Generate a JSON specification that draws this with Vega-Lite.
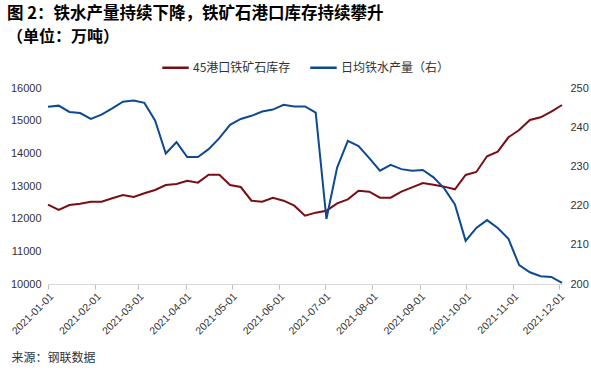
{
  "$schema": "https://vega.github.io/schema/vega-lite/v6.json",
  "width": 514,
  "height": 196,
  "autosize": {"type": "none"},
  "padding": {"left": 48, "top": 88, "right": 29, "bottom": 95},
  "background": "white",
  "title": {
    "text": "图 2：铁水产量持续下降，铁矿石港口库存持续攀升",
    "subtitle": "（单位：万吨）",
    "anchor": "start",
    "frame": "group",
    "dx": -41,
    "fontSize": 16.5,
    "fontWeight": "bold",
    "font": "Noto Sans CJK SC",
    "color": "#000000",
    "subtitleFont": "Noto Sans CJK SC",
    "subtitleFontSize": 16,
    "subtitleFontWeight": "bold",
    "subtitleColor": "#000000",
    "subtitlePadding": 7,
    "offset": 8
  },
  "config": {
    "view": {"stroke": null},
    "axis": {"grid": false, "labelFont": "Liberation Sans", "labelFontSize": 11, "labelColor": "#333333"},
    "legend": {"labelFont": "Noto Sans CJK SC", "labelFontSize": 12, "labelColor": "#333333"}
  },
  "datasets": {
    "rows": [
      {"date": "2021-01-01", "series": "45港口铁矿石库存", "value": 12428},
      {"date": "2021-01-08", "series": "45港口铁矿石库存", "value": 12265},
      {"date": "2021-01-15", "series": "45港口铁矿石库存", "value": 12418},
      {"date": "2021-01-22", "series": "45港口铁矿石库存", "value": 12459},
      {"date": "2021-01-29", "series": "45港口铁矿石库存", "value": 12520},
      {"date": "2021-02-05", "series": "45港口铁矿石库存", "value": 12520},
      {"date": "2021-02-12", "series": "45港口铁矿石库存", "value": 12623},
      {"date": "2021-02-19", "series": "45港口铁矿石库存", "value": 12724},
      {"date": "2021-02-26", "series": "45港口铁矿石库存", "value": 12663},
      {"date": "2021-03-05", "series": "45港口铁矿石库存", "value": 12777},
      {"date": "2021-03-12", "series": "45港口铁矿石库存", "value": 12878},
      {"date": "2021-03-19", "series": "45港口铁矿石库存", "value": 13031},
      {"date": "2021-03-26", "series": "45港口铁矿石库存", "value": 13061},
      {"date": "2021-04-02", "series": "45港口铁矿石库存", "value": 13163},
      {"date": "2021-04-09", "series": "45港口铁矿石库存", "value": 13102},
      {"date": "2021-04-16", "series": "45港口铁矿石库存", "value": 13347},
      {"date": "2021-04-23", "series": "45港口铁矿石库存", "value": 13347},
      {"date": "2021-04-30", "series": "45港口铁矿石库存", "value": 13031},
      {"date": "2021-05-07", "series": "45港口铁矿石库存", "value": 12969},
      {"date": "2021-05-14", "series": "45港口铁矿石库存", "value": 12550},
      {"date": "2021-05-21", "series": "45港口铁矿石库存", "value": 12520},
      {"date": "2021-05-28", "series": "45港口铁矿石库存", "value": 12642},
      {"date": "2021-06-04", "series": "45港口铁矿石库存", "value": 12550},
      {"date": "2021-06-11", "series": "45港口铁矿石库存", "value": 12397},
      {"date": "2021-06-18", "series": "45港口铁矿石库存", "value": 12091},
      {"date": "2021-06-25", "series": "45港口铁矿石库存", "value": 12184},
      {"date": "2021-07-02", "series": "45港口铁矿石库存", "value": 12244},
      {"date": "2021-07-09", "series": "45港口铁矿石库存", "value": 12470},
      {"date": "2021-07-16", "series": "45港口铁矿石库存", "value": 12592},
      {"date": "2021-07-23", "series": "45港口铁矿石库存", "value": 12857},
      {"date": "2021-07-30", "series": "45港口铁矿石库存", "value": 12827},
      {"date": "2021-08-06", "series": "45港口铁矿石库存", "value": 12642},
      {"date": "2021-08-13", "series": "45港口铁矿石库存", "value": 12642},
      {"date": "2021-08-20", "series": "45港口铁矿石库存", "value": 12827},
      {"date": "2021-08-27", "series": "45港口铁矿石库存", "value": 12960},
      {"date": "2021-09-03", "series": "45港口铁矿石库存", "value": 13092},
      {"date": "2021-09-10", "series": "45港口铁矿石库存", "value": 13041},
      {"date": "2021-09-17", "series": "45港口铁矿石库存", "value": 12980},
      {"date": "2021-09-24", "series": "45港口铁矿石库存", "value": 12899},
      {"date": "2021-10-01", "series": "45港口铁矿石库存", "value": 13337},
      {"date": "2021-10-08", "series": "45港口铁矿石库存", "value": 13429},
      {"date": "2021-10-15", "series": "45港口铁矿石库存", "value": 13909},
      {"date": "2021-10-22", "series": "45港口铁矿石库存", "value": 14050},
      {"date": "2021-10-29", "series": "45港口铁矿石库存", "value": 14491},
      {"date": "2021-11-05", "series": "45港口铁矿石库存", "value": 14714},
      {"date": "2021-11-12", "series": "45港口铁矿石库存", "value": 15020},
      {"date": "2021-11-19", "series": "45港口铁矿石库存", "value": 15103},
      {"date": "2021-11-26", "series": "45港口铁矿石库存", "value": 15275},
      {"date": "2021-12-03", "series": "45港口铁矿石库存", "value": 15480},
      {"date": "2021-01-01", "series": "日均铁水产量（右）", "value": 245.2},
      {"date": "2021-01-08", "series": "日均铁水产量（右）", "value": 245.5},
      {"date": "2021-01-15", "series": "日均铁水产量（右）", "value": 243.9},
      {"date": "2021-01-22", "series": "日均铁水产量（右）", "value": 243.6},
      {"date": "2021-01-29", "series": "日均铁水产量（右）", "value": 242.1},
      {"date": "2021-02-05", "series": "日均铁水产量（右）", "value": 243.2},
      {"date": "2021-02-12", "series": "日均铁水产量（右）", "value": 244.8},
      {"date": "2021-02-19", "series": "日均铁水产量（右）", "value": 246.5},
      {"date": "2021-02-26", "series": "日均铁水产量（右）", "value": 246.8},
      {"date": "2021-03-05", "series": "日均铁水产量（右）", "value": 246.2},
      {"date": "2021-03-12", "series": "日均铁水产量（右）", "value": 241.7},
      {"date": "2021-03-19", "series": "日均铁水产量（右）", "value": 233.3},
      {"date": "2021-03-26", "series": "日均铁水产量（右）", "value": 236.2},
      {"date": "2021-04-02", "series": "日均铁水产量（右）", "value": 232.4},
      {"date": "2021-04-09", "series": "日均铁水产量（右）", "value": 232.4},
      {"date": "2021-04-16", "series": "日均铁水产量（右）", "value": 234.4},
      {"date": "2021-04-23", "series": "日均铁水产量（右）", "value": 237.2},
      {"date": "2021-04-30", "series": "日均铁水产量（右）", "value": 240.6},
      {"date": "2021-05-07", "series": "日均铁水产量（右）", "value": 242.1},
      {"date": "2021-05-14", "series": "日均铁水产量（右）", "value": 242.9},
      {"date": "2021-05-21", "series": "日均铁水产量（右）", "value": 244.0},
      {"date": "2021-05-28", "series": "日均铁水产量（右）", "value": 244.5},
      {"date": "2021-06-04", "series": "日均铁水产量（右）", "value": 245.7},
      {"date": "2021-06-11", "series": "日均铁水产量（右）", "value": 245.3},
      {"date": "2021-06-18", "series": "日均铁水产量（右）", "value": 245.3},
      {"date": "2021-06-25", "series": "日均铁水产量（右）", "value": 243.7},
      {"date": "2021-07-02", "series": "日均铁水产量（右）", "value": 216.6},
      {"date": "2021-07-09", "series": "日均铁水产量（右）", "value": 229.7},
      {"date": "2021-07-16", "series": "日均铁水产量（右）", "value": 236.5},
      {"date": "2021-07-23", "series": "日均铁水产量（右）", "value": 235.2},
      {"date": "2021-07-30", "series": "日均铁水产量（右）", "value": 232.1},
      {"date": "2021-08-06", "series": "日均铁水产量（右）", "value": 228.9},
      {"date": "2021-08-13", "series": "日均铁水产量（右）", "value": 230.4},
      {"date": "2021-08-20", "series": "日均铁水产量（右）", "value": 229.3},
      {"date": "2021-08-27", "series": "日均铁水产量（右）", "value": 228.9},
      {"date": "2021-09-03", "series": "日均铁水产量（右）", "value": 229.1},
      {"date": "2021-09-10", "series": "日均铁水产量（右）", "value": 227.2},
      {"date": "2021-09-17", "series": "日均铁水产量（右）", "value": 224.4},
      {"date": "2021-09-24", "series": "日均铁水产量（右）", "value": 220.3},
      {"date": "2021-10-01", "series": "日均铁水产量（右）", "value": 211.0},
      {"date": "2021-10-08", "series": "日均铁水产量（右）", "value": 214.3},
      {"date": "2021-10-15", "series": "日均铁水产量（右）", "value": 216.3},
      {"date": "2021-10-22", "series": "日均铁水产量（右）", "value": 214.3},
      {"date": "2021-10-29", "series": "日均铁水产量（右）", "value": 211.5},
      {"date": "2021-11-05", "series": "日均铁水产量（右）", "value": 204.8},
      {"date": "2021-11-12", "series": "日均铁水产量（右）", "value": 203.0},
      {"date": "2021-11-19", "series": "日均铁水产量（右）", "value": 202.0},
      {"date": "2021-11-26", "series": "日均铁水产量（右）", "value": 201.8},
      {"date": "2021-12-03", "series": "日均铁水产量（右）", "value": 200.3}
    ]
  },
  "data": {"name": "rows"},
  "encoding": {
    "x": {
      "field": "date",
      "type": "temporal",
      "scale": {
        "type": "utc",
        "domain": [{"year": 2021, "month": 1, "date": 1, "utc": true}, {"year": 2021, "month": 12, "date": 3, "utc": true}]
      },
      "axis": {
        "title": "来源：钢联数据",
        "titleFont": "Noto Sans CJK SC",
        "titleFontSize": 12,
        "titleFontWeight": "normal",
        "titleColor": "#333333",
        "titleAnchor": "start",
        "titleAlign": "left",
        "titleBaseline": "middle",
        "titleX": -37,
        "titleY": 73,
        "labelExpr": "utcFormat(datum.value, '%Y-%m-%d')",
        "tickCount": {"interval": "month", "step": 1},
        "labelAngle": -45,
        "labelFontSize": 10.5,
        "labelPadding": 2,
        "domainColor": "#d9d9d9",
        "tickColor": "#bfbfbf",
        "tickSize": 5,
        "labelOverlap": false
      }
    },
    "color": {
      "field": "series",
      "type": "nominal",
      "scale": {"domain": ["45港口铁矿石库存", "日均铁水产量（右）"], "range": ["#7B0E14", "#0E4A91"]},
      "legend": {
        "title": null,
        "orient": "none",
        "legendX": 113,
        "legendY": -35,
        "direction": "horizontal",
        "symbolType": "stroke",
        "symbolSize": 700,
        "symbolStrokeWidth": 2.5,
        "labelOffset": 3,
        "columnPadding": 14
      }
    }
  },
  "layer": [
    {
      "transform": [{"filter": "datum.series === '45港口铁矿石库存'"}],
      "mark": {"type": "line", "strokeWidth": 2},
      "encoding": {
        "y": {
          "field": "value",
          "type": "quantitative",
          "scale": {"domain": [10000, 16000], "nice": false},
          "axis": {"orient": "left", "title": null, "format": "d", "values": [10000, 11000, 12000, 13000, 14000, 15000, 16000], "domain": false, "ticks": false, "labelPadding": 7}
        }
      }
    },
    {
      "transform": [{"filter": "datum.series === '日均铁水产量（右）'"}],
      "mark": {"type": "line", "strokeWidth": 2},
      "encoding": {
        "y": {
          "field": "value",
          "type": "quantitative",
          "scale": {"domain": [200, 250], "nice": false},
          "axis": {"orient": "right", "title": null, "format": "d", "values": [200, 210, 220, 230, 240, 250], "domain": false, "ticks": false, "labelPadding": 8}
        }
      }
    }
  ],
  "resolve": {"scale": {"y": "independent"}, "axis": {"y": "independent"}}
}
